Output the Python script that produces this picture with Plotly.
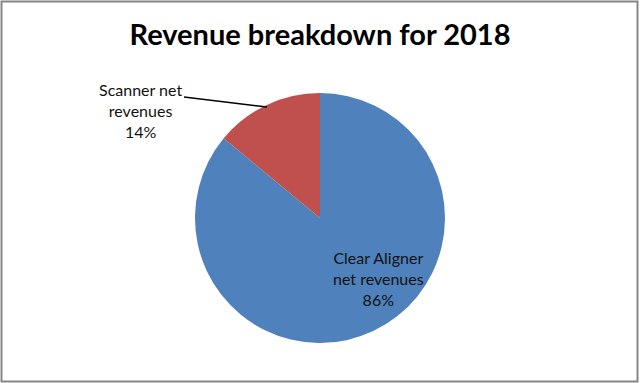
import plotly.graph_objects as go

W, H = 640, 383
categories = ["Clear Aligner net revenues", "Scanner net revenues"]
values = [86, 14]
colors = ["#4F81BD", "#C0504D"]
title = "Revenue breakdown for 2018"

total = sum(values)
pct = [round(v / total * 100) for v in values]
label_text = [
    "Clear Aligner<br>net revenues<br>%d%%" % pct[0],
    "Scanner net<br>revenues<br>%d%%" % pct[1],
]

def px(x, y):
    return x / W, 1 - y / H

fig = go.Figure(go.Pie(
    labels=categories, values=values, sort=False, direction="clockwise",
    rotation=0, marker=dict(colors=colors, line=dict(width=0)), textinfo="none",
    hoverinfo="label+percent", showlegend=False,
    domain=dict(x=[195 / W, 445 / W], y=[1 - 343 / H, 1 - 93 / H]),
))

font = dict(family="Lato, Calibri, sans-serif", size=16, color="#111")
ax, ay = px(378, 278)
bx, by = px(140, 110)
fig.add_annotation(x=ax, y=ay, xref="paper", yref="paper", text=label_text[0],
                   showarrow=False, font=font, align="center",
                   xanchor="center", yanchor="middle")
fig.add_annotation(x=bx, y=by, xref="paper", yref="paper", text=label_text[1],
                   showarrow=False, font=font, align="center",
                   xanchor="center", yanchor="middle")
x0, y0 = px(184, 97)
x1, y1 = px(267, 107)
fig.add_shape(type="line", xref="paper", yref="paper", x0=x0, y0=y0, x1=x1, y1=y1,
              line=dict(color="#000", width=1.5))
fig.add_shape(type="rect", xref="paper", yref="paper", x0=1.5 / W, y0=1.5 / H,
              x1=1 - 2.5 / W, y1=1 - 1.5 / H, line=dict(color="#868686", width=2))

fig.update_layout(
    width=W, height=H, margin=dict(l=0, r=0, t=0, b=0),
    paper_bgcolor="white", plot_bgcolor="white",
    title=dict(text="<b>%s</b>" % title, x=0.5, xanchor="center", y=1 - 35 / H, yanchor="middle",
               font=dict(family="Lato, Calibri, sans-serif", size=29, color="#000")),
)
fig.write_html("out.html", config={"displayModeBar": False},
               post_script="document.body.style.margin='0';document.body.style.overflow='hidden';")
